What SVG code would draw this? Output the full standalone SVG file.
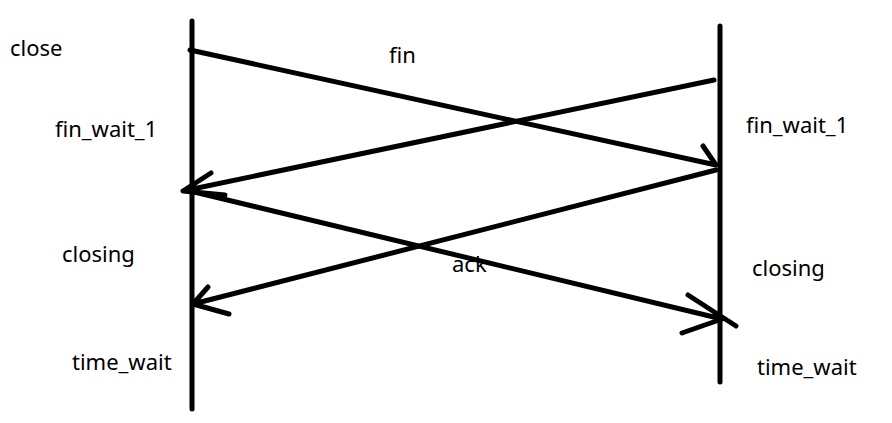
<svg xmlns="http://www.w3.org/2000/svg" width="892" height="423" viewBox="0 0 892 423">
<style>
.ln{fill:none;stroke:#000;stroke-width:5;stroke-linecap:round;stroke-linejoin:round}
.t{font-family:"Noto Sans","Open Sans","DejaVu Sans",sans-serif;font-size:22px;fill:#000}
</style>
<rect width="892" height="423" fill="#fff"/>
<g id="lifeline-left"><path class="ln" d="M192,21 L192,409"/></g>
<g id="lifeline-right"><path class="ln" d="M720,26 L720,382"/></g>
<g id="connectors">
<path class="ln" d="M190,50 L716,165 M703,146 L716,165"/>
<path class="ln" d="M714,80 L183,191 M211,173 L183,191 L225,195"/>
<path class="ln" d="M716,170 L193,304 M208,287 L193,304 L229,314"/>
<path class="ln" d="M186,190 L722,319 M688,295 L736,326 M682,333 L722,319"/>
</g>
<g id="labels">
<text class="t" x="10" y="56">close</text>
<text class="t" x="389" y="63">fin</text>
<text class="t" x="55" y="137">fin_wait_1</text>
<text class="t" x="746" y="133">fin_wait_1</text>
<text class="t" x="62" y="262">closing</text>
<text class="t" x="452" y="272">ack</text>
<text class="t" x="752" y="276">closing</text>
<text class="t" x="72" y="370">time_wait</text>
<text class="t" x="757" y="375">time_wait</text>
</g>
</svg>
